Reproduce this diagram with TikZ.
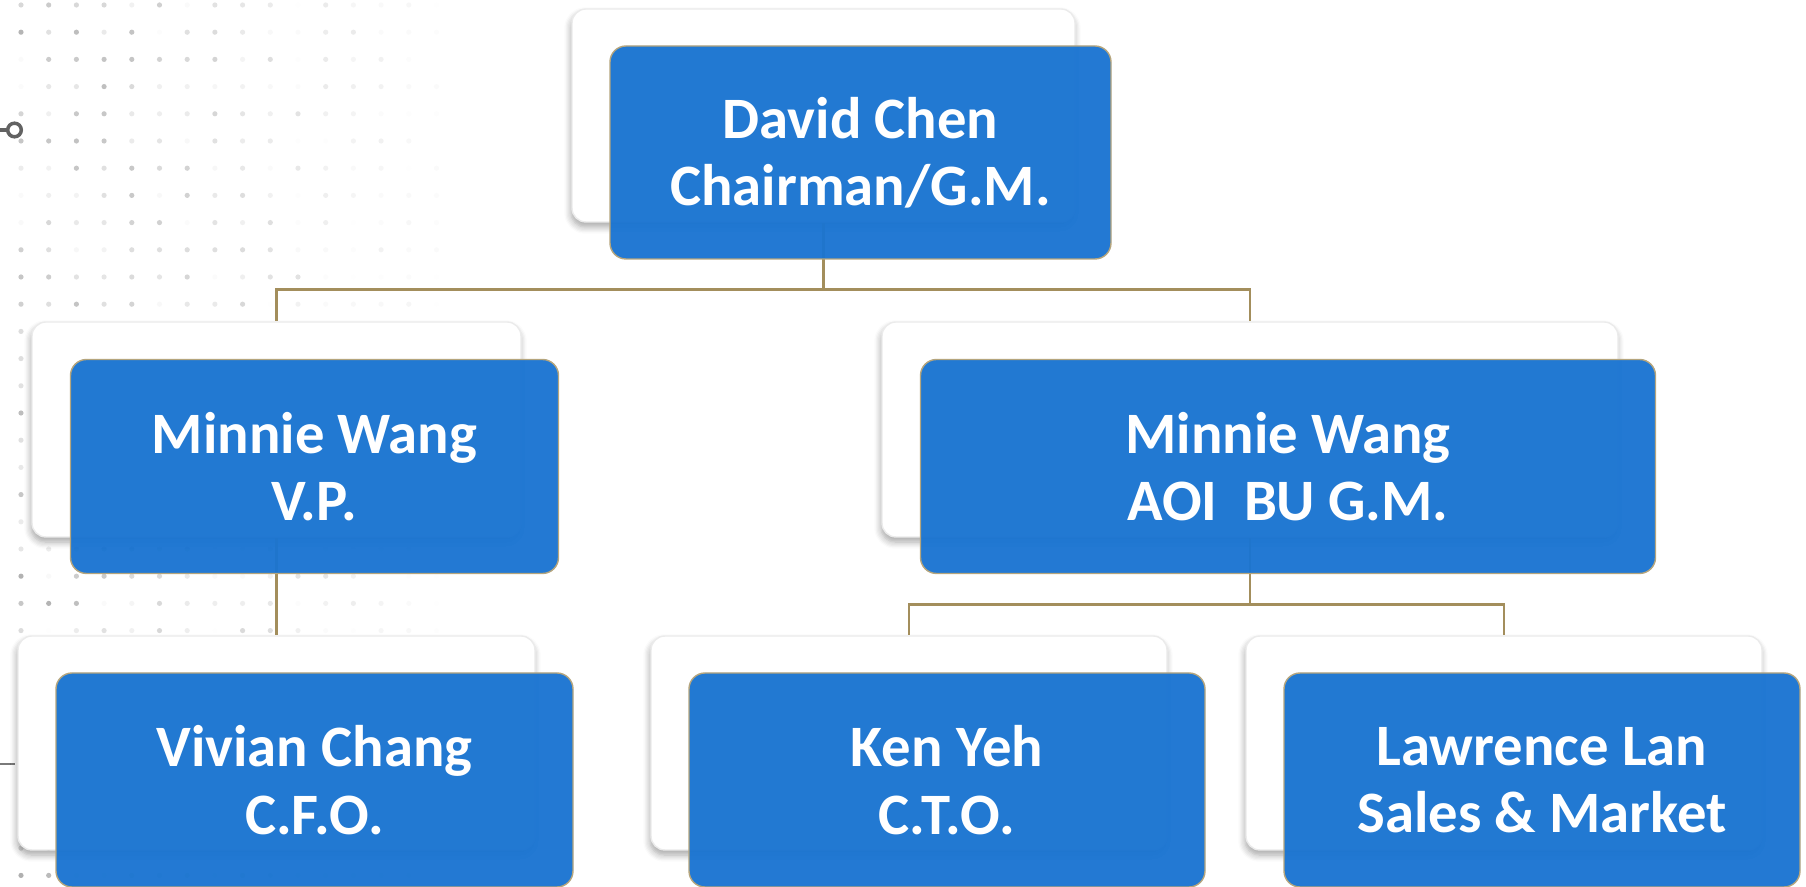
\documentclass[tikz,border=0pt]{standalone}
\usepackage{fontspec}
\setmainfont{Carlito}
\definecolor{orgblue}{HTML}{1A74D1}
\definecolor{linkgold}{HTML}{A38E5C}
\definecolor{dotgray}{HTML}{7A7A7A}
\usepackage{tikz}
\usetikzlibrary{shadows.blur}

\begin{document}
\begin{tikzpicture}[
  card/.style={draw=black!8, fill=white, rounded corners=0.14cm, inner sep=0pt,
    blur shadow={shadow xshift=-0.01cm, shadow yshift=-0.05cm, shadow blur steps=6, shadow opacity=35}},
  tag/.style={draw=linkgold!80, line width=0.4pt, fill=orgblue, fill opacity=0.96, text opacity=1,
    rounded corners=0.16cm, inner sep=0pt, text=white, align=center,
    font=\bfseries\fontsize{16.7}{19.2}\selectfont},
  link/.style={draw=linkgold, line width=0.75pt},
]
  \useasboundingbox (0,0) rectangle (18.06,-8.87);

  % faint dot grid, left side
  \pgfmathsetseed{5}
  \foreach \i in {0,...,15}{
    \foreach \j in {0,...,32}{
      \pgfmathsetmacro{\op}{rnd*0.6*(1-\i/16)}
      \fill[dotgray, opacity=\op] (0.21+0.277*\i,-0.05-0.272*\j) circle (0.026);
    }
  }
  \draw[dotgray!80!black, line width=0.035cm] (0,-1.30) -- (0.075,-1.30);
  \draw[dotgray!80!black, line width=0.035cm] (0.145,-1.30) circle (0.068);
  \draw[dotgray, line width=0.02cm] (0,-7.64) -- (0.15,-7.64);

  % back cards
  \node[card, minimum width=5.03cm, minimum height=2.13cm] (chair) at (8.235,-1.155) {};
  \node[card, minimum width=4.89cm, minimum height=2.15cm] (vp) at (2.765,-4.295) {};
  \node[card, minimum width=7.36cm, minimum height=2.15cm] (aoi) at (12.5,-4.295) {};
  \node[card, minimum width=5.17cm, minimum height=2.14cm] (cfo) at (2.765,-7.43) {};
  \node[card, minimum width=5.16cm, minimum height=2.14cm] (cto) at (9.09,-7.43) {};
  \node[card, minimum width=5.16cm, minimum height=2.14cm] (sales) at (15.04,-7.43) {};

  % links
  \draw[link] (chair.south) -- ++(0,-0.67) -| (vp.north);
  \draw[link] (chair.south) -- ++(0,-0.67) -| (aoi.north);
  \draw[link] (vp.south) -- (cfo.north);
  \draw[link] (aoi.south) -- ++(0,-0.67) -| (cto.north);
  \draw[link] (aoi.south) -- ++(0,-0.67) -| (sales.north);

  % front tags
  \node[tag, minimum width=5.01cm, minimum height=2.13cm] (chairT) at ([shift={(0.37,-0.37)}]chair.center) {David Chen\\Chairman/G.M.};
  \node[tag, minimum width=4.88cm, minimum height=2.14cm] (vpT) at ([shift={(0.38,-0.37)}]vp.center) {Minnie Wang\\V.P.};
  \node[tag, minimum width=7.35cm, minimum height=2.14cm] (aoiT) at ([shift={(0.38,-0.37)}]aoi.center) {Minnie Wang\\AOI\ \ BU G.M.};
  \node[tag, minimum width=5.17cm, minimum height=2.14cm] (cfoT) at ([shift={(0.38,-0.37)}]cfo.center) {Vivian Chang\\C.F.O.};
  \node[tag, minimum width=5.16cm, minimum height=2.14cm] (ctoT) at ([shift={(0.38,-0.37)}]cto.center) {Ken Yeh\\C.T.O.};
  \node[tag, minimum width=5.16cm, minimum height=2.14cm] (salesT) at ([shift={(0.38,-0.37)}]sales.center) {Lawrence Lan\\Sales \& Market};
\end{tikzpicture}
\end{document}
